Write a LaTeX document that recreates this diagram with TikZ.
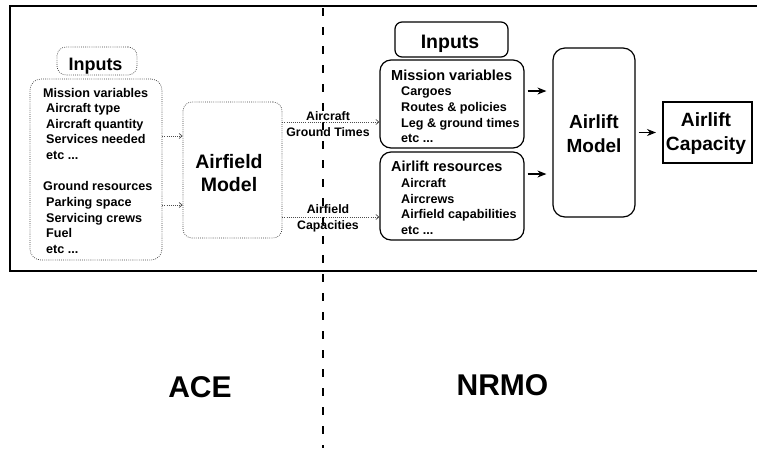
\documentclass[tikz,border=0pt]{standalone}
\usepackage{fontspec}
\setmainfont{Liberation Sans}
\usetikzlibrary{arrows.meta}
\tikzset{
  item/.style={font=\fontsize{12.6}{15}\selectfont\bfseries, anchor=base west, inner sep=0},
  head/.style={font=\fontsize{14.5}{17}\selectfont\bfseries, anchor=base west, inner sep=0},
  dotbox/.style={draw=black!75, line width=0.7pt, dash pattern=on 0.8pt off 1.3pt, rounded corners=9pt, inner sep=0},
  solbox/.style={draw, line width=1.2pt, rounded corners=9pt, inner sep=0},
  bigtxt/.style={font=\fontsize{19.5}{23}\selectfont\bfseries, align=center, inner sep=0},
  lbl/.style={font=\fontsize{12.3}{16}\selectfont\bfseries, align=center, inner sep=0},
  sarr/.style={-{Stealth[length=9pt,width=7pt]}, line width=1.1pt, shorten <=3pt, shorten >=6pt},
  darr/.style={-{Straight Barb[length=3pt,width=5pt]}, draw=black!70, line width=0.7pt, dash pattern=on 0.8pt off 1.3pt},
}
\begin{document}
\begin{tikzpicture}[x=1pt,y=-1pt]
\useasboundingbox (0,0) rectangle (757,451);
% outer frame
\draw[line width=2.5pt] (760,6) -- (10,6) -- (10,271) -- (760,271);
% divider
\draw[line width=2pt, dash pattern=on 8pt off 11pt] (323,8) -- (323,448);

% ---------- ACE side ----------
\node[dotbox, minimum width=80, minimum height=28] (lti) at (97,61) {};
\node[font=\fontsize{18}{20}\selectfont\bfseries, inner sep=0, anchor=base] (ltit) at (95.5,70) {Inputs};
\node[dotbox, minimum width=132, minimum height=181, rounded corners=11pt] (lin) at (96,169.5) {};
\node[item] (l1) at (43,97.5) {Mission variables};
\node[item] (l2) at (46,112.5) {Aircraft type};
\node[item] (l3) at (46,128) {Aircraft quantity};
\node[item] (l4) at (46,143.5) {Services needed};
\node[item] (l5) at (46,159) {etc ...};
\node[item] (l6) at (43,190.5) {Ground resources};
\node[item] (l7) at (46,206.5) {Parking space};
\node[item] (l8) at (46,222) {Servicing crews};
\node[item] (l9) at (46,237.5) {Fuel};
\node[item] (l10) at (46,253) {etc ...};

\node[dotbox, minimum width=99, minimum height=136] (af) at (232.5,170) {};
\node[bigtxt] (aft) at (229,173) {Airfield\\Model};

\draw[darr] ([yshift=33.5pt]lin.east) -- ([yshift=33.5pt]lin.east -| af.west);
\draw[darr] ([yshift=-35.5pt]lin.east) -- ([yshift=-35.5pt]lin.east -| af.west);

% ---------- NRMO side ----------
\node[solbox, minimum width=113, minimum height=35, rounded corners=7pt] (rti) at (451.5,39.5) {};
\node[font=\fontsize{19.5}{21}\selectfont\bfseries, inner sep=0, anchor=base] (rtit) at (450,48) {Inputs};

\node[solbox, minimum width=144, minimum height=88, rounded corners=11pt] (mv) at (452,104) {};
\node[head] (m1) at (391,80) {Mission variables};
\node[item] (m2) at (401,95.5) {Cargoes};
\node[item] (m3) at (401,111.5) {Routes \& policies};
\node[item] (m4) at (401,127) {Leg \& ground times};
\node[item] (m5) at (401,142) {etc ...};

\node[solbox, minimum width=144, minimum height=88, rounded corners=11pt] (ar) at (452,196) {};
\node[head] (r1) at (391,171.5) {Airlift resources};
\node[item] (r2) at (401,187.5) {Aircraft};
\node[item] (r3) at (401,203) {Aircrews};
\node[item] (r4) at (401,218.5) {Airfield capabilities};
\node[item] (r5) at (401,234) {etc ...};

\node[solbox, minimum width=82, minimum height=169, rounded corners=12pt] (am) at (594,132.5) {};
\node[bigtxt, font=\fontsize{19}{24}\selectfont\bfseries] (amt) at (594,134) {Airlift\\Model};

\node[draw, line width=2pt, minimum width=89, minimum height=61, inner sep=0] (cap) at (707.5,132.5) {};
\node[bigtxt, font=\fontsize{19.2}{24}\selectfont\bfseries] (capt) at (706,134) {Airlift\\Capacity};

\draw[sarr] ([yshift=13pt]mv.east) -- ([yshift=13pt]mv.east -| am.west);
\draw[sarr] ([yshift=22pt]ar.east) -- ([yshift=22pt]ar.east -| am.west);
\draw[sarr] (am.east) -- (cap.west);

% ---------- connections ACE -> NRMO ----------
\draw[darr] ([yshift=48pt]af.east) -- ([yshift=48pt]af.east -| mv.west);
\draw[darr] ([yshift=-47pt]af.east) -- ([yshift=-47pt]af.east -| ar.west);
\node[lbl] (gt) at (328,124) {Aircraft\\Ground Times};
\node[lbl] (ac) at (328,218) {Airfield\\Capacities};

% ---------- titles ----------
\node[font=\fontsize{30}{32}\selectfont\bfseries, inner sep=0, anchor=base] (ace) at (200,397) {ACE};
\node[font=\fontsize{30}{32}\selectfont\bfseries, inner sep=0, anchor=base] (nrmo) at (502.5,395) {NRMO};
\end{tikzpicture}
\end{document}
